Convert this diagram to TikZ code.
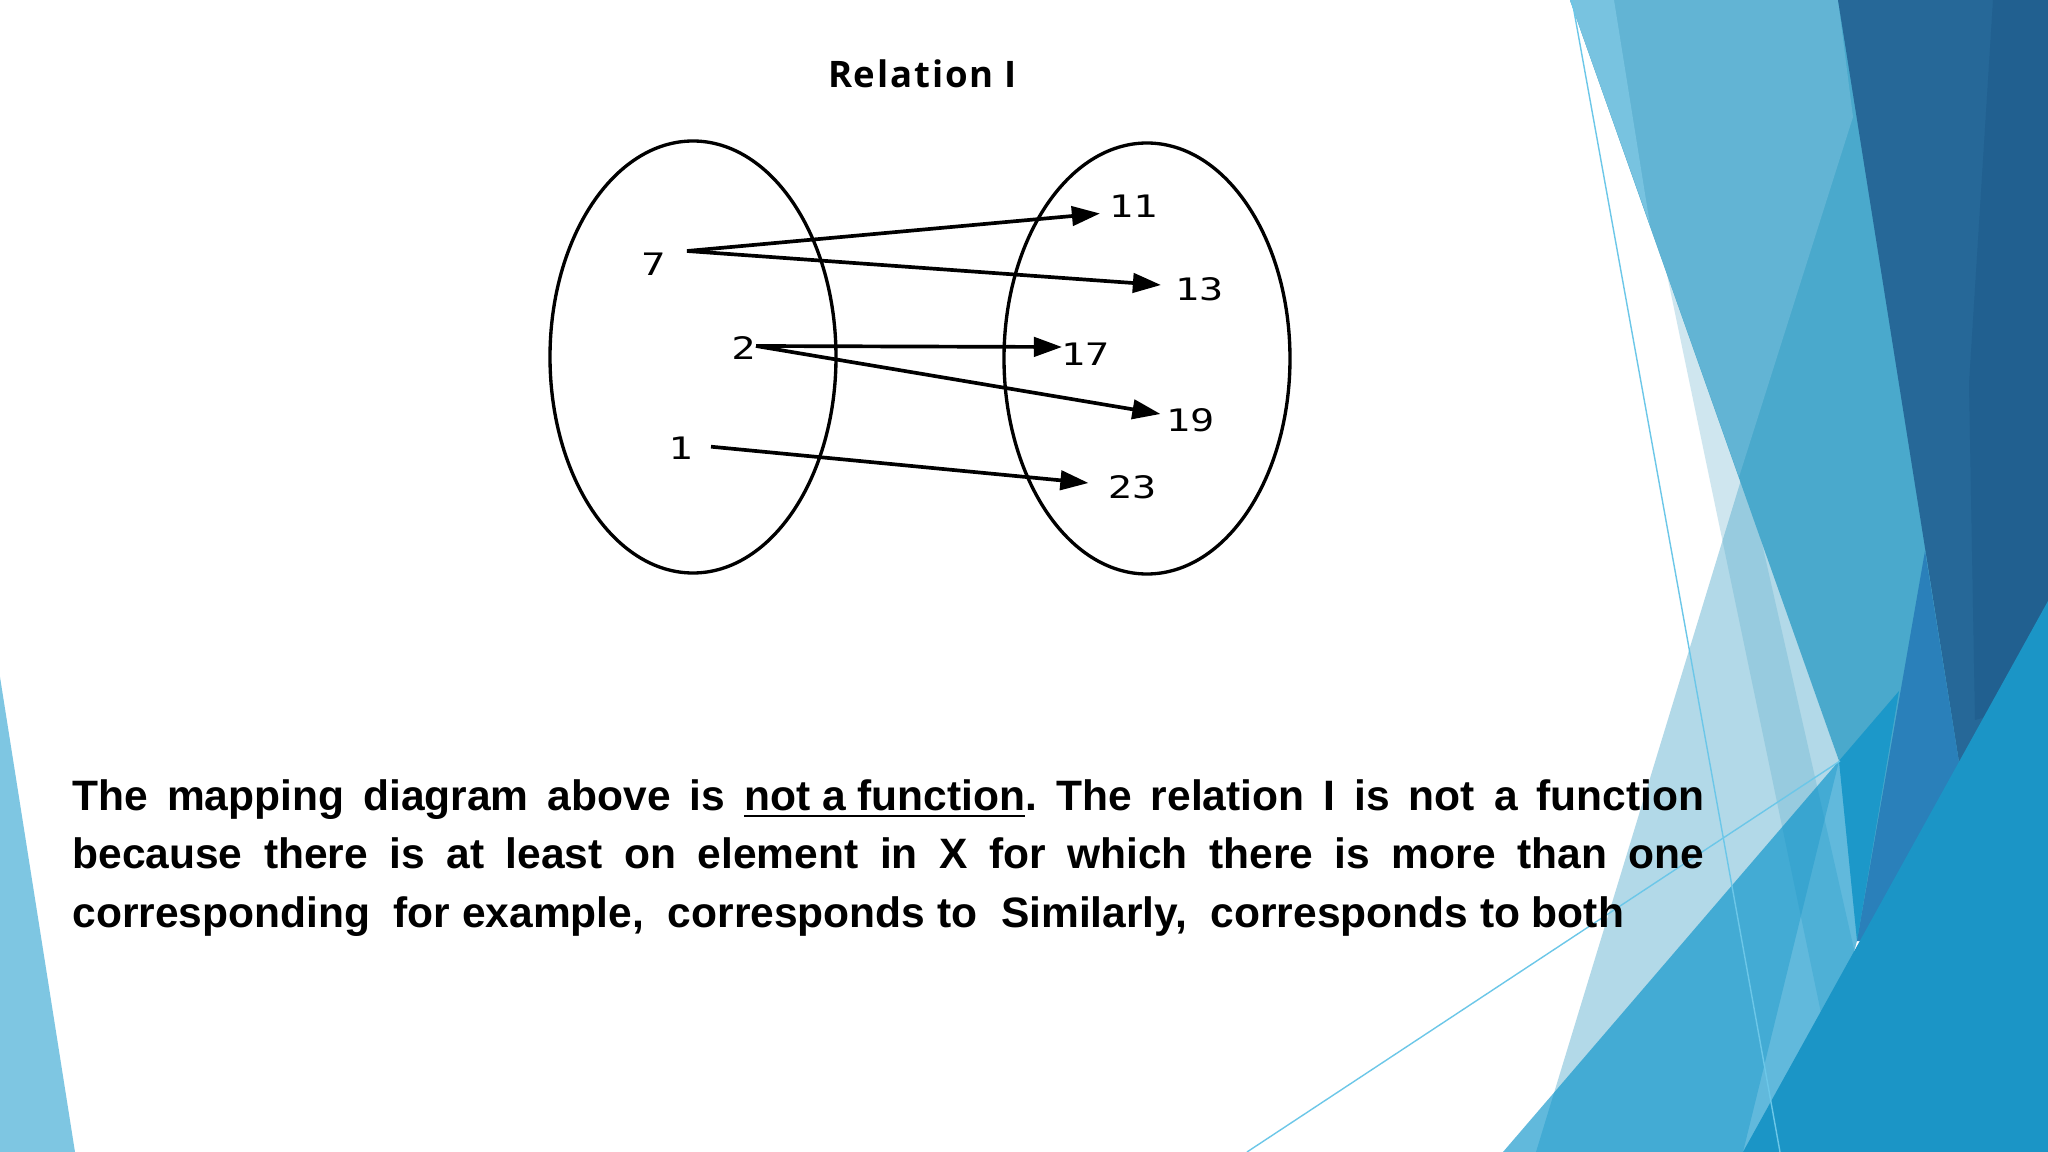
\documentclass[tikz,border=0pt]{standalone}
\usepackage{fontspec}
\setmainfont{Liberation Sans}
\newfontfamily\titlefont[LetterSpace=5]{Open Sans}
\newfontfamily\digitfont[FakeStretch=1.3]{DejaVu Sans Mono}
\usetikzlibrary{arrows.meta}
\definecolor{facetTop}{HTML}{62B4D4}
\definecolor{facetMid}{HTML}{4AA9CC}
\definecolor{facetEdge}{HTML}{78C3E0}
\definecolor{facetDark}{HTML}{266898}
\definecolor{facetDeep}{HTML}{216090}
\definecolor{facetWedge}{HTML}{2A80BA}
\definecolor{facetPale}{HTML}{B2D9E8}
\definecolor{facetTint}{HTML}{51A6C7}
\definecolor{facetSea}{HTML}{008FC8}
\definecolor{facetBright}{HTML}{1B95C6}
\definecolor{facetLine}{HTML}{6CC7E8}
\definecolor{facetLeft}{HTML}{7EC6E2}
\tikzset{
    element/.style={font=\digitfont\fontsize{8.8}{10}\selectfont, inner sep=0pt},
    mapsto/.style={-{Triangle[length=8pt,width=5.5pt]}, line width=1.05pt},
    setoval/.style={line width=0.95pt},
}

\begin{document}
\begin{tikzpicture}
        %page size
        \useasboundingbox (0, 0) rectangle (20.48, -11.52);
        \fill[white] (0, 0) rectangle (20.48, -11.52);
        %left facet
        \fill[facetLeft] (0, -6.77) -- (0, -11.52) -- (0.75, -11.52) -- cycle;
        %right facets
        \fill[facetPale] (17.41, -4.80) -- (15.36, -11.52) -- (17.43, -11.52) -- (18.39, -7.61) -- cycle;
        \fill[facetTint, opacity=0.27] (16.66, -2.70) -- (18.50, -11.52) -- (19.00, -11.52) -- (17.00, -2.70) -- cycle;
        \fill[facetMid] (15.70, 0) -- (18.60, 0) -- (19.80, -7.40) -- (19.59, -7.62) -- (18.57, -9.41) -- (18.39, -7.61) -- cycle;
        \fill[facetTop] (15.70, 0) -- (18.38, 0) -- (18.53, -1.17) -- (17.39, -4.77) -- cycle;
        \fill[facetEdge] (15.70, 0) -- (16.14, 0) -- (16.50, -2.25) -- cycle;
        \fill[facetDark] (18.38, 0) -- (20.48, 0) -- (20.48, -7.00) -- (19.59, -7.62) -- cycle;
        \fill[facetDeep] (19.93, 0) -- (20.48, 0) -- (20.48, -7.00) -- (19.75, -7.20) -- (19.69, -3.84) -- cycle;
        \fill[facetWedge] (19.25, -5.51) -- (19.59, -7.62) -- (19.30, -9.41) -- (18.57, -9.41) -- cycle;
        \fill[facetSea, opacity=0.62] (15.03, -11.52) -- (18.99, -6.91) -- (18.57, -9.41) -- (18.00, -11.52) -- cycle;
        \fill[facetBright] (20.48, -6.01) -- (20.48, -11.52) -- (17.43, -11.52) -- cycle;
        \draw[facetLine, line width=0.4pt] (15.72, 0) -- (17.80, -11.52);
        \draw[facetLine, line width=0.4pt] (12.47, -11.52) -- (18.40, -7.61);
        %title
        \node[font=\titlefont\bfseries\fontsize{10.4}{12}\selectfont] (title) at (9.225, -0.74) {Relation I};
        %draw the two sets
        \draw[setoval] (6.93, -3.57) ellipse (1.43 and 2.16);
        \draw[setoval] (11.47, -3.585) ellipse (1.43 and 2.155);
        %label elements of the domain
        \node[element] (x7) at (6.535, -2.64) {7};
        \node[element] (x2) at (7.435, -3.48) {2};
        \node[element] (x1) at (6.805, -4.48) {1};
        %label elements of the range
        \node[element] (y11) at (11.33, -2.06) {11};
        \node[element] (y13) at (11.99, -2.89) {13};
        \node[element] (y17) at (10.85, -3.545) {17};
        \node[element] (y19) at (11.90, -4.205) {19};
        \node[element] (y23) at (11.32, -4.87) {23};
        %draw the mapping arrows
        \draw[mapsto] ([xshift=3.35mm, yshift=1.3mm]x7.center) -- ([xshift=-3.3mm, yshift=-0.75mm]y11.center);
        \draw[mapsto] ([xshift=3.35mm, yshift=1.3mm]x7.center) -- ([xshift=-3.8mm, yshift=0.4mm]y13.center);
        \draw[mapsto] ([xshift=1.25mm, yshift=0.2mm]x2.center) -- ([xshift=-2.3mm, yshift=0.75mm]y17.center);
        \draw[mapsto] ([xshift=1.25mm, yshift=0.2mm]x2.center) -- ([xshift=-2.95mm, yshift=0.65mm]y19.center);
        \draw[mapsto] ([xshift=3.05mm, yshift=0.13mm]x1.center) -- ([xshift=-4.35mm, yshift=0.4mm]y23.center);
        %explanation
        \node[text width=16.32cm, align=justify, inner sep=0pt, anchor=north west,
            font=\bfseries\fontsize{12.1}{16.6}\selectfont\frenchspacing] (note) at (0.717, -7.79)
            {The mapping diagram above is \underline{not a function}. The relation I is not a function\linebreak
            because there is at least on element in X for which there is more than one\linebreak
            corresponding\ \ for example,\ \ corresponds to\ \ Similarly,\ \ corresponds to both};
\end{tikzpicture}
\end{document}
